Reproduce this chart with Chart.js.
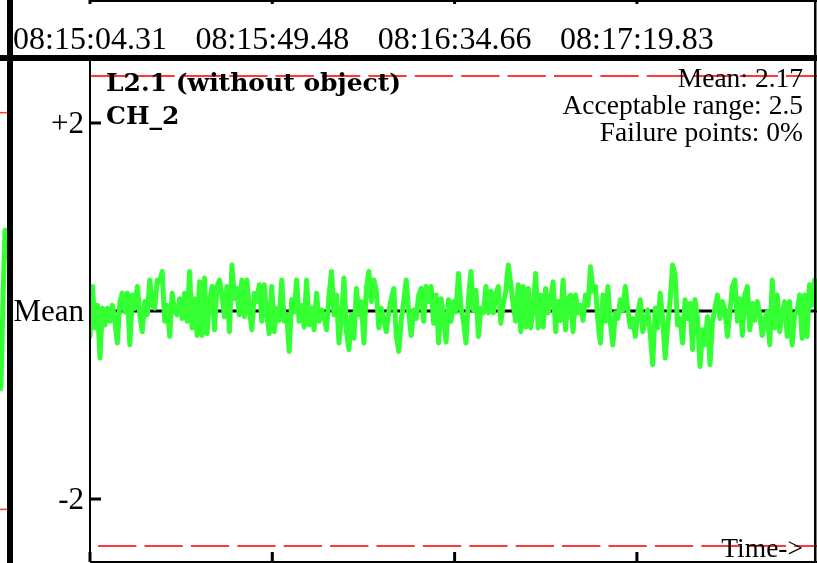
<!DOCTYPE html>
<html><head><meta charset="utf-8">
<script src="https://cdn.jsdelivr.net/npm/chart.js@4.4.1/dist/chart.umd.min.js"></script>
<style>html,body{margin:0;padding:0;background:#fff;overflow:hidden}canvas{display:block}</style>
</head><body>
<canvas id="c" width="817" height="563"></canvas>
<script>
const seriesName = 'L2.1 (without object)';
const channelName = 'CH_2';
const meanValue = 2.17;
const acceptableRange = 2.5;
const failurePercent = 0;
const tickLabels = ['08:15:04.31', '08:15:49.48', '08:16:34.66', '08:17:19.83'];
const tickSeconds = [0, 45.17, 90.35, 135.52];
const yTickValues = [2, 0, -2];
const yTickLabels = ['+2', 'Mean', '-2'];
const sampleInterval = 0.617;   // seconds between samples
const xEnd = 180.15;            // seconds visible
const yLimit = 2.67;            // visible deviation range
// deviation from mean, one value per sample
const deviations = [
 -0.27, 0.26, -0.18, 0.06, -0.50, 0.03, -0.15, 0.03, -0.11, 0.06, -0.11, -0.34, 0.10, 0.19, -0.01, 0.19, -0.36, 0.17, 0.03, 0.26,
 -0.04, -0.22, 0.10, -0.04, 0.33, 0.06, 0.03, 0.33, 0.31, 0.42, -0.11, 0.06, -0.27, 0.19, -0.01, -0.04, 0.13, -0.08, 0.19, -0.11,
 0.42, -0.18, 0.13, -0.26, 0.31, -0.26, 0.35, -0.24, 0.10,
 0.26, -0.20, 0.26, 0.33, 0.17, -0.06, 0.26, -0.22, 0.49, 0.13, 0.24, -0.04, 0.33, -0.06, 0.33, 0.01, -0.20, 0.19, 0.10, 0.28,
 -0.11, 0.28, -0.04, -0.24, 0.26, -0.22, 0.03, -0.10, 0.33, -0.11, -0.04, -0.43, 0.12, -0.01, 0.33, -0.11, 0.06, -0.17, 0.33, -0.15,
 0.03, -0.20, 0.19, -0.11, 0.01,
 -0.06, -0.20, 0.17, 0.42, -0.04, 0.17, -0.34, -0.08, 0.35, -0.22, -0.41, -0.04, -0.29, 0.24, -0.04, 0.10, -0.34, 0.24, 0.42, 0.10,
 0.33, 0.21, -0.18, 0.03, -0.10, -0.22, -0.01, 0.13, 0.24, -0.26, -0.43, -0.10, 0.10, 0.33, -0.01, -0.26, 0.01, -0.08, 0.17, 0.24,
 -0.11, 0.26, 0.10, 0.26, -0.13, 0.17, -0.34, 0.13, -0.08,
 -0.33, 0.12, -0.11, 0.10, -0.01, 0.40, 0.03, -0.11, -0.34, 0.13, 0.42, 0.01, 0.22, -0.27, 0.03, -0.02, 0.26, -0.02, 0.21, -0.02,
 0.19, 0.26, -0.13, 0.08, 0.21, 0.49, 0.28, 0.06, -0.11, 0.28, -0.22, 0.26, -0.17, 0.24, -0.18, 0.03, 0.40, -0.18, 0.17, -0.17,
 0.24, -0.02, 0.13, 0.31, -0.22, 0.10, -0.10, 0.33, -0.20, 0.13, 0.17,
 -0.22, 0.17, -0.02, 0.06, -0.10, 0.17, 0.06, 0.47, 0.21, 0.26, -0.11, -0.34, 0.17, -0.11, 0.26, -0.13, -0.36, -0.02, -0.08, 0.12,
 0.01, 0.26, 0.01, -0.17, -0.08, -0.27, -0.02, 0.12, -0.22, -0.11, 0.01, -0.24, -0.57, 0.03, -0.18, 0.19, -0.08, -0.50, -0.17, 0.12,
 0.49, 0.38, -0.15, -0.08, -0.34, 0.12, -0.08, 0.08, -0.41, 0.12, -0.08,
 -0.59, -0.20, -0.36, -0.06, -0.57, -0.11, 0.03, 0.17, -0.08, 0.10, 0.01, -0.27, -0.01, 0.26, 0.33, -0.11, 0.13, -0.26, 0.17, 0.26,
 -0.20, 0.08, -0.10, 0.10, -0.04, -0.26, -0.08, -0.01, -0.36, 0.33, -0.18, 0.17, -0.22, -0.04, 0.10, -0.27, 0.10, -0.36, -0.04, -0.01,
 0.17, -0.29, 0.17, -0.27, 0.28, 0.06, 0.33, 0.03
];
// edge of the neighbouring panel visible at the far left (listed right-to-left)
const neighborTrace = [{x: -20.07, y: 0.54}, {x: -21.06, y: 0.86}, {x: -21.56, y: 0.12}, {x: -22.05, y: -0.77}, {x: -22.3, y: -0.85}];
const neighborLimits = [2.11, -2.11];
const neighborSpan = [-20.5, -22.6];

const GREEN = '#33ff33', RED = '#ff3838';

const frame = {
  id: 'frame',
  afterDraw(chart) {
    const ctx = chart.ctx, a = chart.chartArea, W = chart.width, H = chart.height;
    const xs = chart.scales.x, ys = chart.scales.y;
    ctx.save();
    ctx.fillStyle = '#000';
    ctx.fillRect(a.left, 0, W - a.left, 2);
    tickSeconds.forEach(t => {
      const px = xs.getPixelForValue(t);
      ctx.fillRect(px - 1.5, 0, 3, 4);
      ctx.fillRect(px - 1.5, a.bottom - 10, 3, 10);
    });
    ctx.fillRect(0, 55, W, 6);
    ctx.fillRect(7, 0, 6, H);
    ctx.fillRect(a.left - 1, a.top, 2, a.bottom - a.top);
    ctx.fillRect(a.left, a.bottom - 1, W - a.left, 2);
    ctx.fillRect(W - 3, 0, 2.5, H);
    [2, -2].forEach(v => {
      const py = ys.getPixelForValue(v);
      ctx.fillRect(a.left, py - 1.5, 11, 3);
    });
    ctx.textBaseline = 'alphabetic';
    ctx.textAlign = 'left';
    ctx.font = "bold 25px 'DejaVu Serif'";
    ctx.fillText(seriesName, 106, 91);
    ctx.fillText(channelName, 106, 124);
    ctx.textAlign = 'right';
    ctx.font = "27.5px 'Liberation Serif'";
    ctx.fillText('Mean: ' + meanValue.toFixed(2), 803, 87);
    ctx.fillText('Acceptable range: ' + acceptableRange, 803, 114);
    ctx.fillText('Failure points: ' + failurePercent + '%', 803, 141);
    ctx.fillText('Time->', 803, 557);
    ctx.restore();
  }
};

const line = (pts, color, width, extra) => Object.assign({
  data: pts, borderColor: color, borderWidth: width, pointRadius: 0, fill: false, tension: 0
}, extra || {});

new Chart(document.getElementById('c'), {
  type: 'line',
  data: {
    datasets: [
      line(deviations.map((v, i) => ({x: i * sampleInterval, y: v})), GREEN, 5, {borderJoinStyle: 'round', borderCapStyle: 'round'}),
      line([{x: 0, y: 0}, {x: xEnd, y: 0}], '#000', 3),
      line([{x: 0, y: acceptableRange}, {x: xEnd, y: acceptableRange}], RED, 2, {borderDash: [38.3, 8.1], borderDashOffset: 0}),
      line([{x: 0, y: -acceptableRange}, {x: xEnd, y: -acceptableRange}], RED, 2, {borderDash: [38.3, 8.1], borderDashOffset: 38.3}),
      line(neighborTrace, GREEN, 5, {clip: false, borderJoinStyle: 'round'}),
      line(neighborSpan.map(x => ({x, y: neighborLimits[0]})), RED, 1.5, {clip: false}),
      line(neighborSpan.map(x => ({x, y: neighborLimits[1]})), RED, 1.5, {clip: false})
    ]
  },
  options: {
    responsive: false,
    animation: false,
    devicePixelRatio: 1,
    layout: {autoPadding: false, padding: {left: 0, right: 0, top: 0, bottom: 1}},
    plugins: {legend: {display: false}, tooltip: {enabled: false}, title: {display: false}},
    scales: {
      x: {type: 'linear', display: false, min: 0, max: xEnd},
      xTop: {
        type: 'linear', position: 'top', min: 0, max: xEnd,
        afterFit(s) { s.height = 60; s.paddingLeft = 0; s.paddingRight = 0; },
        afterBuildTicks(s) { s.ticks = tickSeconds.map(v => ({value: v})); },
        ticks: {autoSkip: false, maxRotation: 0, padding: 0, color: '#000',
          font: {family: 'Liberation Serif', size: 32},
          callback: (v, i) => tickLabels[i]},
        grid: {display: false, drawTicks: false},
        border: {display: false}
      },
      y: {
        type: 'linear', position: 'left', min: -yLimit, max: yLimit,
        afterFit(s) { s.width = 90; s.paddingTop = 0; s.paddingBottom = 0; },
        afterBuildTicks(s) { s.ticks = yTickValues.slice().reverse().map(v => ({value: v})); },
        ticks: {autoSkip: false, padding: 6, labelOffset: 2, color: '#000',
          font: {family: 'Liberation Serif', size: 31},
          callback: (v) => yTickLabels[yTickValues.indexOf(v)]},
        grid: {display: false, drawTicks: false},
        border: {display: false}
      }
    }
  },
  plugins: [frame]
});
</script>
</body></html>
